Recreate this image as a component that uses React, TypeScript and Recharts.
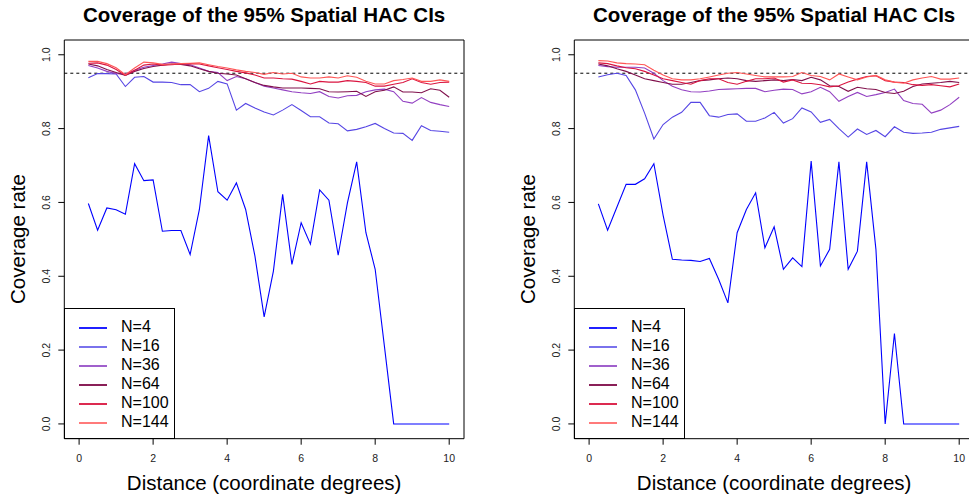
import { LineChart, Line, XAxis, YAxis, ReferenceLine, ReferenceArea } from 'recharts'

// distance grid (coordinate degrees)
const distances = [
  0.25, 0.5, 0.75, 1, 1.25, 1.5, 1.75, 2, 2.25, 2.5, 2.75, 3, 3.25, 3.5, 3.75, 4, 4.25, 4.5, 4.75, 5,
  5.25, 5.5, 5.75, 6, 6.25, 6.5, 6.75, 7, 7.25, 7.5, 7.75, 8, 8.25, 8.5, 8.75, 9, 9.25, 9.5, 9.75, 10,
]

const seriesNames = ['N=4', 'N=16', 'N=36', 'N=64', 'N=100', 'N=144']
const seriesColors = ['#0000ff', '#5646e4', '#9240c2', '#80104c', '#da1540', '#ff5656']
const legendColors = ['#2020ff', '#7a72ec', '#a060cc', '#8a2058', '#dc2a50', '#ff7a7a']

const xTicks = [0, 2, 4, 6, 8, 10]
const yTicks = [0, 0.2, 0.4, 0.6, 0.8, 1]
const nominalLevel = 0.95

// left panel
const leftN4 = [
  0.597, 0.525, 0.585, 0.58, 0.568, 0.705, 0.659, 0.661, 0.522, 0.524, 0.524, 0.459, 0.581, 0.781, 0.629, 0.606, 0.653, 0.581, 0.455, 0.29,
  0.414, 0.622, 0.432, 0.545, 0.487, 0.634, 0.606, 0.457, 0.599, 0.71, 0.518, 0.419, 0.21, 0, 0, 0, 0, 0, 0, 0,
]
const leftN16 = [
  0.938, 0.949, 0.949, 0.948, 0.914, 0.939, 0.941, 0.926, 0.926, 0.925, 0.919, 0.919, 0.9, 0.909, 0.928, 0.921, 0.85, 0.868, 0.856, 0.845,
  0.837, 0.85, 0.865, 0.849, 0.832, 0.832, 0.815, 0.813, 0.794, 0.798, 0.805, 0.814, 0.8, 0.788, 0.787, 0.768, 0.808, 0.795, 0.793, 0.79,
]
const leftN36 = [
  0.971, 0.964, 0.955, 0.949, 0.948, 0.958, 0.966, 0.971, 0.975, 0.98, 0.976, 0.973, 0.964, 0.955, 0.952, 0.93, 0.941, 0.935, 0.925, 0.915,
  0.91, 0.905, 0.9, 0.897, 0.895, 0.9, 0.887, 0.883, 0.889, 0.89, 0.9, 0.905, 0.907, 0.9, 0.874, 0.869, 0.884, 0.871, 0.865, 0.86,
]
const leftN64 = [
  0.975, 0.97, 0.96, 0.952, 0.944, 0.955, 0.963, 0.968, 0.972, 0.975, 0.974, 0.97, 0.962, 0.955, 0.95, 0.948, 0.945, 0.935, 0.925, 0.917,
  0.913, 0.91, 0.91, 0.91, 0.909, 0.908, 0.9, 0.899, 0.9, 0.901, 0.887, 0.9, 0.904, 0.913, 0.899, 0.899, 0.897, 0.908, 0.904, 0.885,
]
const leftN100 = [
  0.977, 0.978, 0.972, 0.96, 0.944, 0.958, 0.972, 0.975, 0.972, 0.973, 0.975, 0.976, 0.975, 0.97, 0.965, 0.96, 0.955, 0.951, 0.945, 0.937,
  0.937, 0.935, 0.934, 0.928, 0.921, 0.928, 0.926, 0.926, 0.93, 0.928, 0.925, 0.915, 0.915, 0.92, 0.925, 0.935, 0.925, 0.92, 0.925, 0.926,
]
const leftN144 = [
  0.982, 0.982, 0.976, 0.965, 0.946, 0.964, 0.98, 0.978, 0.974, 0.975, 0.976, 0.977, 0.978, 0.973, 0.968, 0.964, 0.959, 0.955, 0.952, 0.947,
  0.952, 0.948, 0.95, 0.94, 0.937, 0.937, 0.94, 0.937, 0.943, 0.939, 0.928, 0.921, 0.921, 0.93, 0.933, 0.937, 0.928, 0.928, 0.932, 0.928,
]

// right panel
const rightN4 = [
  0.596, 0.525, 0.587, 0.649, 0.649, 0.664, 0.705, 0.565, 0.446, 0.444, 0.443, 0.44, 0.448, 0.392, 0.328, 0.518, 0.581, 0.626, 0.477, 0.534,
  0.419, 0.45, 0.426, 0.712, 0.428, 0.473, 0.71, 0.419, 0.468, 0.71, 0.473, 0, 0.245, 0, 0, 0, 0, 0, 0, 0,
]
const rightN16 = [
  0.94, 0.946, 0.95, 0.944, 0.905, 0.842, 0.772, 0.811, 0.831, 0.844, 0.871, 0.871, 0.835, 0.831, 0.838, 0.84, 0.82, 0.82, 0.829, 0.844,
  0.815, 0.827, 0.856, 0.845, 0.817, 0.825, 0.8, 0.777, 0.799, 0.784, 0.795, 0.778, 0.805, 0.79, 0.787, 0.788, 0.79, 0.798, 0.802, 0.806,
]
const rightN36 = [
  0.971, 0.968, 0.966, 0.966, 0.966, 0.964, 0.95, 0.93, 0.915, 0.905, 0.9, 0.899, 0.902, 0.906, 0.907, 0.908, 0.909, 0.909, 0.9, 0.904,
  0.907, 0.906, 0.894, 0.9, 0.912, 0.9, 0.874, 0.887, 0.898, 0.887, 0.892, 0.898, 0.907, 0.876, 0.868, 0.866, 0.842, 0.85, 0.865, 0.885,
]
const rightN64 = [
  0.975, 0.97, 0.962, 0.955, 0.945, 0.935, 0.93, 0.925, 0.92, 0.92, 0.925, 0.93, 0.932, 0.935, 0.937, 0.935, 0.93, 0.928, 0.93, 0.932,
  0.93, 0.933, 0.93, 0.939, 0.932, 0.916, 0.914, 0.901, 0.912, 0.908, 0.906, 0.898, 0.895, 0.901, 0.914, 0.921, 0.923, 0.925, 0.928, 0.925,
]
const rightN100 = [
  0.978, 0.976, 0.97, 0.965, 0.962, 0.955, 0.945, 0.935, 0.93, 0.925, 0.92, 0.93, 0.935, 0.935, 0.925, 0.92, 0.928, 0.935, 0.935, 0.937,
  0.926, 0.932, 0.923, 0.922, 0.919, 0.913, 0.916, 0.926, 0.934, 0.941, 0.943, 0.93, 0.926, 0.925, 0.919, 0.917, 0.919, 0.916, 0.913, 0.921,
]
const rightN144 = [
  0.984, 0.983, 0.978, 0.976, 0.975, 0.973, 0.958, 0.945, 0.935, 0.932, 0.932, 0.935, 0.94, 0.945, 0.95, 0.952, 0.948, 0.944, 0.94, 0.94,
  0.94, 0.941, 0.952, 0.944, 0.941, 0.932, 0.948, 0.94, 0.932, 0.94, 0.944, 0.932, 0.926, 0.923, 0.932, 0.937, 0.941, 0.934, 0.934, 0.937,
]

const FONT = '"Liberation Sans", Arial, Helvetica, sans-serif'
const CHART_W = 485
const CHART_H = 496

type Row = { d: number; [k: string]: number }

function buildRows(series: number[][]): Row[] {
  return distances.map((d, i) => {
    const row: Row = { d }
    series.forEach((vals, s) => {
      row['s' + s] = vals[i]
    })
    return row
  })
}

function YTick(props: any) {
  const { x, y, payload } = props
  return (
    <text
      x={x - 10}
      y={y}
      transform={`rotate(-90, ${x - 10}, ${y})`}
      textAnchor="middle"
      dominantBaseline="central"
      fontSize={10.5}
      fill="#222"
      fontFamily={FONT}
    >
      {Number(payload.value).toFixed(1)}
    </text>
  )
}

function XTick(props: any) {
  const { x, y, payload } = props
  return (
    <text x={x} y={y + 11} textAnchor="middle" dominantBaseline="central" fontSize={10.5} fill="#222" fontFamily={FONT}>
      {payload.value}
    </text>
  )
}

function Panel({ left, title, series }: { left: number; title: string; series: number[][] }) {
  const rows = buildRows(series)
  const plotLeft = 64.3
  const plotRight = 464
  const plotTop = 40
  const plotBottom = 438.7
  const cx = (plotLeft + plotRight) / 2
  return (
    <div style={{ position: 'absolute', left, top: 0, width: CHART_W, height: CHART_H }}>
      <LineChart
        width={CHART_W}
        height={CHART_H}
        data={rows}
        margin={{ top: plotTop, right: CHART_W - plotRight, left: plotLeft - 40, bottom: CHART_H - plotBottom - 30 }}
      >
        <XAxis
          dataKey="d"
          type="number"
          domain={[-0.4, 10.4]}
          ticks={xTicks}
          allowDataOverflow
          height={30}
          axisLine={false}
          tickLine={{ stroke: '#000' }}
          tickSize={6}
          tick={<XTick />}
        />
        <YAxis
          type="number"
          domain={[-0.04, 1.04]}
          ticks={yTicks}
          allowDataOverflow
          width={40}
          axisLine={false}
          tickLine={{ stroke: '#000' }}
          tickSize={6}
          tick={<YTick />}
        />
        <ReferenceLine y={nominalLevel} stroke="#000" strokeDasharray="3 3" strokeWidth={1} />
        {seriesNames.map((name, s) => (
          <Line
            key={name}
            dataKey={'s' + s}
            name={name}
            type="linear"
            stroke={seriesColors[s]}
            strokeWidth={1.1}
            dot={false}
            isAnimationActive={false}
          />
        ))}
        <ReferenceArea x1={-0.4} x2={10.4} y1={-0.04} y2={1.04} fill="none" fillOpacity={0} stroke="#000" strokeWidth={1} />
      </LineChart>

      <div
        style={{
          position: 'absolute',
          left: cx - 240,
          width: 480,
          top: 3,
          textAlign: 'center',
          fontFamily: FONT,
          fontWeight: 'bold',
          fontSize: 20.5,
          lineHeight: '24px',
          color: '#000',
        }}
      >
        {title}
      </div>
      <div
        style={{
          position: 'absolute',
          left: cx - 220,
          width: 440,
          top: 470,
          textAlign: 'center',
          fontFamily: FONT,
          fontSize: 20.5,
          lineHeight: '26px',
          color: '#000',
        }}
      >
        Distance (coordinate degrees)
      </div>
      <div
        style={{
          position: 'absolute',
          left: 18.3 - 100,
          top: (plotTop + plotBottom) / 2 - 13,
          width: 200,
          textAlign: 'center',
          transform: 'rotate(-90deg)',
          fontFamily: FONT,
          fontSize: 20.5,
          lineHeight: '26px',
          color: '#000',
        }}
      >
        Coverage rate
      </div>

      <div
        style={{
          position: 'absolute',
          left: 64,
          top: 308,
          width: 111,
          height: 131,
          boxSizing: 'border-box',
          border: '1px solid #000',
          background: '#fff',
          fontFamily: FONT,
          fontSize: 16,
        }}
      >
        {seriesNames.map((name, s) => (
          <div key={name} style={{ position: 'absolute', left: 0, top: Math.round(8 + s * 18.9), height: 19, width: '100%' }}>
            <div
              style={{
                position: 'absolute',
                left: 14,
                top: 10,
                width: 28,
                height: 2,
                background: legendColors[s],
              }}
            />
            <div style={{ position: 'absolute', left: 56, top: 0, lineHeight: '19px', color: '#000' }}>{name}</div>
          </div>
        ))}
      </div>
    </div>
  )
}

export default function App() {
  return (
    <div
      style={{
        position: 'absolute',
        left: 0,
        top: 0,
        width: 969,
        height: 496,
        overflow: 'hidden',
        background: '#fff',
      }}
    >
      <Panel
        left={0}
        title="Coverage of the 95% Spatial HAC CIs"
        series={[leftN4, leftN16, leftN36, leftN64, leftN100, leftN144]}
      />
      <Panel
        left={510}
        title="Coverage of the 95% Spatial HAC CIs"
        series={[rightN4, rightN16, rightN36, rightN64, rightN100, rightN144]}
      />
    </div>
  )
}
